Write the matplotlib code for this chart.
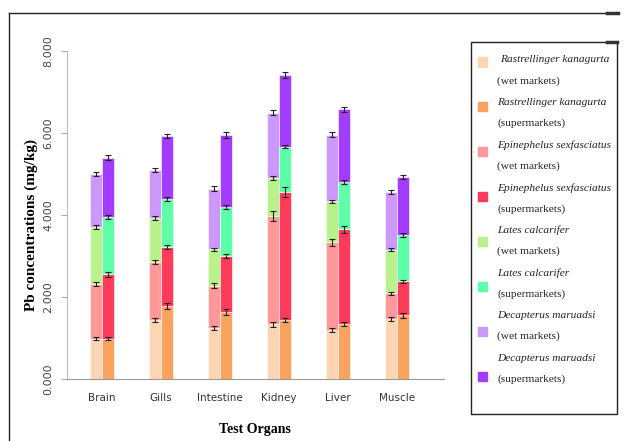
import numpy as np
import matplotlib.pyplot as plt
from matplotlib.patches import Rectangle
from matplotlib.lines import Line2D

organs = ["Brain", "Gills", "Intestine", "Kidney", "Liver", "Muscle"]

# Pb concentrations (mg/kg) for each species, wet markets vs supermarkets
rk_wet = [0.98, 1.44, 1.24, 1.34, 1.20, 1.46]
rk_sup = [0.98, 1.78, 1.63, 1.44, 1.34, 1.56]
es_wet = [1.33, 1.41, 1.04, 2.64, 2.13, 0.63]
es_sup = [1.58, 1.43, 1.37, 3.12, 2.31, 0.82]
lc_wet = [1.40, 1.08, 0.88, 0.92, 1.00, 1.06]
lc_sup = [1.39, 1.18, 1.19, 1.11, 1.15, 1.13]
dm_wet = [1.28, 1.17, 1.48, 1.60, 1.63, 1.41]
dm_sup = [1.45, 1.54, 1.76, 1.74, 1.78, 1.42]

# standard deviations
rk_wet_sd = [0.04, 0.05, 0.05, 0.06, 0.05, 0.05]
rk_sup_sd = [0.04, 0.08, 0.07, 0.05, 0.05, 0.06]
es_wet_sd = [0.05, 0.05, 0.05, 0.12, 0.08, 0.03]
es_sup_sd = [0.06, 0.05, 0.05, 0.13, 0.08, 0.03]
lc_wet_sd = [0.05, 0.05, 0.04, 0.04, 0.04, 0.04]
lc_sup_sd = [0.05, 0.05, 0.05, 0.04, 0.05, 0.04]
dm_wet_sd = [0.05, 0.04, 0.06, 0.06, 0.06, 0.05]
dm_sup_sd = [0.07, 0.05, 0.07, 0.07, 0.06, 0.05]

species = ["Rastrellinger kanagurta", "Epinephelus sexfasciatus",
           "Lates calcarifer", "Decapterus maruadsi"]
wet_cols = ["#FCD5B5", "#FF9898", "#B9F28C", "#CC99FA"]
sup_cols = ["#F9A35E", "#FF3B5C", "#5EFFA8", "#A23CFF"]

W, H = 625, 441
fig = plt.figure(figsize=(W / 100, H / 100), dpi=100)


def px(x, y):
    return x / W, 1 - y / H


ax = fig.add_axes([67 / W, 1 - 379 / H, (444 - 67) / W, (379 - 51) / H])

x = np.arange(len(organs))
bw = 0.2
for vals, sds, cols, off in [
    ([rk_wet, es_wet, lc_wet, dm_wet], [rk_wet_sd, es_wet_sd, lc_wet_sd, dm_wet_sd], wet_cols, -bw / 2),
    ([rk_sup, es_sup, lc_sup, dm_sup], [rk_sup_sd, es_sup_sd, lc_sup_sd, dm_sup_sd], sup_cols, bw / 2),
]:
    bottom = np.zeros(len(organs))
    for v, sd, c in zip(vals, sds, cols):
        v = np.array(v)
        ax.bar(x + off, v, bw, bottom=bottom, color=c, edgecolor="white",
               linewidth=0.4, zorder=2)
        bottom = bottom + v
        ax.errorbar(x + off, bottom, yerr=sd, fmt="none", ecolor="#222222",
                    elinewidth=0.8, capsize=2.5, capthick=0.8, zorder=3)

ax.set_xlim(-0.593, 5.8)
ax.set_ylim(0, 8)
ax.set_yticks([0, 2, 4, 6, 8])
ax.set_yticklabels(["0.000", "2.000", "4.000", "6.000", "8.000"],
                   rotation=90, va="center", fontsize=8, color="#444444")
ax.set_xticks(x)
ax.set_xticklabels(organs, fontsize=7.5, color="#333333")
ax.tick_params(axis="x", length=0, pad=10)
ax.tick_params(axis="y", length=4, color="#aaaaaa", pad=6)
for s in ["top", "right"]:
    ax.spines[s].set_visible(False)
ax.spines["left"].set_color("#bbbbbb")
ax.spines["bottom"].set_color("#999999")

fig.text(*px(31, 225), "Pb concentrations (mg/kg)", rotation=90,
         ha="center", va="center", family="Liberation Serif",
         fontweight="bold", fontsize=11)
fig.text(*px(255, 430), "Test Organs", ha="center", va="center",
         family="Liberation Serif", fontweight="bold", fontsize=10)

# outer frame (top and left only)
fig.add_artist(Line2D([px(9, 0)[0], px(618, 0)[0]], [px(0, 13)[1]] * 2,
                      color="#222222", lw=1))
fig.add_artist(Line2D([px(9, 0)[0]] * 2, [px(0, 13)[1], 0],
                      color="#222222", lw=1))
fig.add_artist(Line2D([px(607, 0)[0], px(618, 0)[0]], [px(0, 13)[1]] * 2,
                      color="#333333", lw=2.5))

# legend
lx0, ly0, lx1, ly1 = 471, 42, 617, 414
fig.add_artist(Rectangle(px(lx0, ly1), (lx1 - lx0) / W, (ly1 - ly0) / H,
                         transform=fig.transFigure, fill=False,
                         edgecolor="#222222", lw=1))
fig.add_artist(Line2D([px(607, 0)[0], px(617, 0)[0]], [px(0, 42)[1]] * 2,
                      color="#333333", lw=2.5))
entries = []
for sp, cw, cs in zip(species, wet_cols, sup_cols):
    entries.append((sp, "(wet markets)", cw))
    entries.append((sp, "(supermarkets)", cs))
for i, (name, market, col) in enumerate(entries):
    hy = 62 + i * 44.9
    fig.add_artist(Rectangle(px(478, hy + 4.5), 9 / W, 9 / H,
                             transform=fig.transFigure, color=col))
    ty = 60 + i * 42.6
    tx = 500 if i == 0 else 497
    fig.text(*px(tx, ty), name, family="Liberation Serif", style="italic",
             fontsize=8.2, va="center", color="#222222")
    fig.text(*px(497, ty + 21), market, family="Liberation Serif",
             fontsize=8.2, va="center", color="#222222")

fig.savefig("out.png", dpi=100)
